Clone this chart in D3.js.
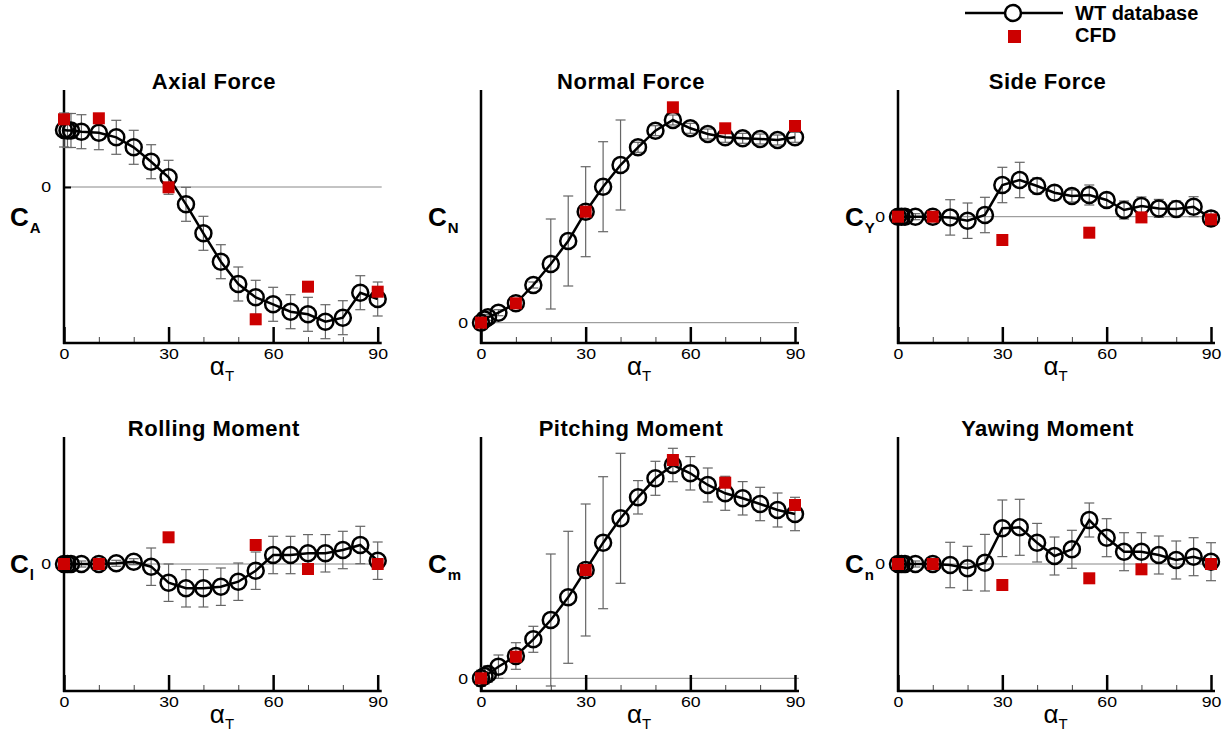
<!DOCTYPE html>
<html>
<head>
<meta charset="utf-8">
<script src="https://cdn.jsdelivr.net/npm/d3@7"></script>
<style>
  body { margin: 0; background: #fff; }
  text { font-family: "Liberation Sans", Arial, sans-serif; fill: #000; }
</style>
</head>
<body>
<div id="chart"></div>
<script>
// angle d'attaque total (deg)
const alpha = [0, 1, 2, 5, 10, 15, 20, 25, 30, 35, 40, 45, 50, 55, 60, 65, 70, 75, 80, 85, 90];
const cfdAlpha = [0, 10, 30, 55, 70, 90];
const xTicks = [0, 30, 60, 90];
const xMinor = [10, 20, 40, 50, 70, 80];

// Axial force
const axialWT  = [0.57, 0.565, 0.565, 0.553, 0.543, 0.497, 0.397, 0.253, 0.097, -0.173, -0.463, -0.747, -0.97, -1.103, -1.173, -1.247, -1.273, -1.347, -1.307, -1.057, -1.12];
const axialErr = [0.17, 0.17, 0.17, 0.17, 0.17, 0.17, 0.17, 0.17, 0.17, 0.17, 0.17, 0.17, 0.17, 0.17, 0.17, 0.17, 0.17, 0.17, 0.17, 0.17, 0.17];
const axialCFD = [0.677, 0.687, -0.003, -1.323, -0.997, -1.047];

// Normal force
const normalWT  = [0, 0.033, 0.054, 0.1, 0.194, 0.377, 0.587, 0.817, 1.11, 1.36, 1.577, 1.754, 1.92, 2.027, 1.944, 1.887, 1.854, 1.844, 1.837, 1.827, 1.854];
const normalErr = [0.03, 0.03, 0.03, 0.03, 0.03, 0.03, 0.45, 0.45, 0.45, 0.45, 0.45, 0.05, 0.05, 0.05, 0.05, 0.05, 0.05, 0.05, 0.05, 0.05, 0.05];
const normalCFD = [0, 0.194, 1.11, 2.154, 1.944, 1.967];

// Side force
const sideWT  = [0, 0, 0, 0, 0, -0.007, -0.04, 0.017, 0.317, 0.367, 0.307, 0.24, 0.207, 0.217, 0.167, 0.067, 0.107, 0.083, 0.077, 0.1, -0.017];
const sideErr = [0.03, 0.03, 0.03, 0.03, 0.03, 0.177, 0.177, 0.177, 0.177, 0.177, 0.08, 0.07, 0.06, 0.1, 0.07, 0.09, 0.09, 0.09, 0.08, 0.1, 0.07];
const sideCFD = [0, 0, -0.233, -0.16, -0.007, -0.027];

// Rolling moment
const rollWT  = [0, 0, 0, 0, 0, 0.007, 0.023, -0.027, -0.187, -0.243, -0.243, -0.227, -0.177, -0.067, 0.09, 0.09, 0.107, 0.107, 0.14, 0.19, 0.033];
const rollErr = [0.03, 0.03, 0.03, 0.03, 0.03, 0.03, 0.03, 0.187, 0.187, 0.187, 0.187, 0.187, 0.187, 0.187, 0.187, 0.187, 0.187, 0.187, 0.187, 0.187, 0.187];
const rollCFD = [0, 0, 0.267, 0.19, -0.05, 0];

// Pitching moment
const pitchWT  = [0, 0.023, 0.043, 0.116, 0.223, 0.39, 0.583, 0.81, 1.083, 1.356, 1.6, 1.81, 2.0, 2.133, 2.05, 1.933, 1.85, 1.8, 1.743, 1.683, 1.643];
const pitchErr = [0.08, 0.08, 0.08, 0.117, 0.133, 0.13, 0.66, 0.66, 0.66, 0.66, 0.65, 0.167, 0.17, 0.167, 0.167, 0.17, 0.17, 0.167, 0.167, 0.17, 0.167];
const pitchCFD = [0, 0.216, 1.083, 2.183, 1.956, 1.733];

// Yawing moment
const yawWT  = [0, 0, 0, 0, 0, -0.01, -0.043, 0.013, 0.357, 0.367, 0.213, 0.08, 0.147, 0.44, 0.263, 0.123, 0.123, 0.09, 0.04, 0.073, 0.023];
const yawErr = [0.03, 0.03, 0.03, 0.03, 0.03, 0.227, 0.22, 0.283, 0.283, 0.28, 0.193, 0.19, 0.19, 0.17, 0.19, 0.19, 0.19, 0.19, 0.19, 0.19, 0.19];
const yawCFD = [0, 0, -0.21, -0.143, -0.053, 0];

const red = "#cc0000";

// panneaux : position + domaine y
const panels = [
  { title: "Axial Force",     sub: "A", wt: axialWT,  err: axialErr,  cfd: axialCFD,  x0: 64,  x1: 377.7, top: 90,  bottom: 343, dom: [-1.56, 0.97],  lx: 10 },
  { title: "Normal Force",    sub: "N", wt: normalWT, err: normalErr, cfd: normalCFD, x0: 481, x1: 795,   top: 90,  bottom: 343, dom: [-0.203, 2.327], lx: 428 },
  { title: "Side Force",      sub: "Y", wt: sideWT,   err: sideErr,   cfd: sideCFD,   x0: 898, x1: 1211,  top: 90,  bottom: 343, dom: [-1.263, 1.267], lx: 845 },
  { title: "Rolling Moment",  sub: "l", wt: rollWT,   err: rollErr,   cfd: rollCFD,   x0: 64,  x1: 377.7, top: 437, bottom: 691, dom: [-1.27, 1.27],  lx: 10 },
  { title: "Pitching Moment", sub: "m", wt: pitchWT,  err: pitchErr,  cfd: pitchCFD,  x0: 481, x1: 795,   top: 437, bottom: 691, dom: [-0.127, 2.413], lx: 428 },
  { title: "Yawing Moment",   sub: "n", wt: yawWT,    err: yawErr,    cfd: yawCFD,    x0: 898, x1: 1211,  top: 437, bottom: 691, dom: [-1.27, 1.27],  lx: 845 }
];

const svg = d3.select("#chart")
  .append("svg")
  .attr("width", 1230)
  .attr("height", 733);

svg.append("rect").attr("width", 1230).attr("height", 733).attr("fill", "#fff");

panels.forEach(p => {
  const x = d3.scaleLinear().domain([0, 90]).range([p.x0, p.x1]);
  const y = d3.scaleLinear().domain(p.dom).range([p.bottom, p.top]);
  const g = svg.append("g");

  // ligne zero
  g.append("line")
    .attr("x1", p.x0).attr("x2", p.x1 + 4)
    .attr("y1", y(0)).attr("y2", y(0))
    .attr("stroke", "#888").attr("stroke-width", 1);

  // ticks mineurs
  const minor = g.append("g")
    .attr("transform", `translate(0,${p.bottom})`)
    .call(d3.axisBottom(x).tickValues(xMinor).tickSize(-6).tickFormat(""));
  minor.select(".domain").remove();
  minor.selectAll("line").attr("stroke", "#444").attr("stroke-width", 1);

  // ticks majeurs
  const major = g.append("g")
    .attr("transform", `translate(0,${p.bottom})`)
    .call(d3.axisBottom(x).tickValues(xTicks).tickSize(-16).tickPadding(5));
  major.select(".domain").remove();
  major.selectAll("line").attr("stroke", "#000").attr("stroke-width", 2.5);
  major.selectAll("text")
    .attr("font-size", 15)
    .attr("transform", "scale(1.18,1)")
    .style("font-family", "'Liberation Sans', Arial, sans-serif");

  // axe y
  const ya = g.append("g")
    .attr("transform", `translate(${p.x0},0)`)
    .call(d3.axisLeft(y).tickValues([0]).tickFormat(d3.format("d")).tickSize(-7).tickPadding(11));
  ya.select(".domain").remove();
  ya.selectAll("line").attr("stroke", "#000").attr("stroke-width", 2);
  ya.selectAll("text")
    .attr("font-size", 15)
    .attr("transform", "scale(1.18,1)")
    .style("font-family", "'Liberation Sans', Arial, sans-serif");

  // cadre (axes)
  g.append("line")
    .attr("x1", p.x0).attr("x2", p.x0)
    .attr("y1", p.top).attr("y2", p.bottom + 1)
    .attr("stroke", "#000").attr("stroke-width", 2.5);
  g.append("line")
    .attr("x1", p.x0 - 1).attr("x2", p.x1 + 4)
    .attr("y1", p.bottom).attr("y2", p.bottom)
    .attr("stroke", "#000").attr("stroke-width", 2.5);

  // barres d'erreur
  const eb = g.append("g").attr("stroke", "#666").attr("stroke-width", 1.2);
  alpha.forEach((a, i) => {
    const cx = x(a), lo = y(p.wt[i] - p.err[i]), hi = y(p.wt[i] + p.err[i]);
    eb.append("line").attr("x1", cx).attr("x2", cx).attr("y1", lo).attr("y2", hi);
    eb.append("line").attr("x1", cx - 5).attr("x2", cx + 5).attr("y1", lo).attr("y2", lo);
    eb.append("line").attr("x1", cx - 5).attr("x2", cx + 5).attr("y1", hi).attr("y2", hi);
  });

  // courbe WT
  const line = d3.line().x((d, i) => x(alpha[i])).y(d => y(d));
  g.append("path")
    .datum(p.wt)
    .attr("d", line)
    .attr("fill", "none")
    .attr("stroke", "#000")
    .attr("stroke-width", 2.5);

  g.selectAll(".wt")
    .data(p.wt)
    .enter()
    .append("circle")
    .attr("cx", (d, i) => x(alpha[i]))
    .attr("cy", d => y(d))
    .attr("r", 8)
    .attr("fill", "none")
    .attr("stroke", "#000")
    .attr("stroke-width", 2.5);

  // CFD
  g.selectAll(".cfd")
    .data(p.cfd)
    .enter()
    .append("rect")
    .attr("x", (d, i) => x(cfdAlpha[i]) - 6)
    .attr("y", d => y(d) - 6)
    .attr("width", 12)
    .attr("height", 12)
    .attr("fill", red);

  // titre
  g.append("text")
    .text(p.title)
    .attr("x", (p.x0 + p.x1) / 2 - 7)
    .attr("y", p.top - 1)
    .attr("text-anchor", "middle")
    .attr("font-size", 22)
    .attr("font-weight", "bold")
    .attr("letter-spacing", 0.5);

  // label y
  const mid = (p.top + p.bottom) / 2;
  const lab = g.append("text")
    .attr("x", p.lx)
    .attr("y", mid + 9)
    .attr("font-weight", "bold");
  lab.append("tspan").text("C").attr("font-size", 26);
  lab.append("tspan").text(p.sub).attr("font-size", 15).attr("dy", 7).attr("dx", 1);

  // label x
  const xl = g.append("text")
    .attr("x", (p.x0 + p.x1) / 2 - 11)
    .attr("y", p.bottom + 32);
  xl.append("tspan").text("α").attr("font-size", 26);
  xl.append("tspan").text("T").attr("font-size", 15).attr("dy", 6);
});

// légende
const leg = svg.append("g");
leg.append("line")
  .attr("x1", 965).attr("x2", 1063).attr("y1", 13).attr("y2", 13)
  .attr("stroke", "#000").attr("stroke-width", 2.5);
leg.append("circle")
  .attr("cx", 1013).attr("cy", 13).attr("r", 8)
  .attr("fill", "#fff").attr("stroke", "#000").attr("stroke-width", 2.5);
leg.append("text").text("WT database")
  .attr("x", 1075).attr("y", 20)
  .attr("font-size", 20).attr("font-weight", "bold");
leg.append("rect")
  .attr("x", 1008).attr("y", 30).attr("width", 13).attr("height", 13)
  .attr("fill", red);
leg.append("text").text("CFD")
  .attr("x", 1075).attr("y", 42)
  .attr("font-size", 20).attr("font-weight", "bold");
</script>
</body>
</html>
